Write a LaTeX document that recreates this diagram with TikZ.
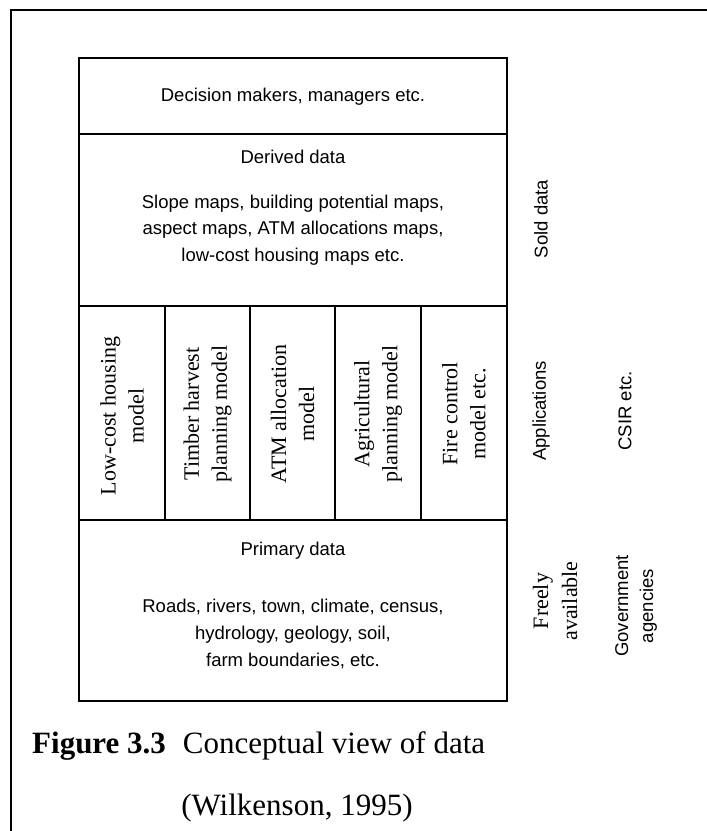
\documentclass[tikz,border=0pt]{standalone}
\usepackage{fontspec}
\setmainfont{Liberation Serif}
\setsansfont{Liberation Sans}
\usetikzlibrary{positioning}

\begin{document}
\begin{tikzpicture}[
  x=1pt, y=-1pt,
  every node/.style={inner sep=0pt},
  rowtext/.style={font=\sffamily\fontsize{18.5}{26.5}\selectfont, align=center},
  modeltext/.style={font=\fontsize{22}{28}\selectfont, rotate=90, align=center},
  sidetext/.style={font=\sffamily\fontsize{18.5}{25}\selectfont, rotate=90, align=center},
  sideserif/.style={font=\fontsize{22}{29}\selectfont, rotate=90, align=center},
  captext/.style={font=\fontsize{31}{36}\selectfont},
  tableline/.style={line width=1.6pt}
]
\useasboundingbox (0,0) rectangle (707,831);

% ---- OUTER FRAME ----
\draw[line width=1.5pt] (707,10) -- (11,10) -- (11,831);

% ---- TABLE ----
\draw[tableline] (79,58) rectangle (507,701);
\draw[tableline] (79,134) -- (507,134);
\draw[tableline] (79,306) -- (507,306);
\draw[tableline] (79,520) -- (507,520);
\draw[tableline] (165,306) -- (165,520);
\draw[tableline] (250,306) -- (250,520);
\draw[tableline] (335,306) -- (335,520);
\draw[tableline] (421,306) -- (421,520);

% ==== TOP: decision makers ====
\node[rowtext] (decide) at (293,97) {Decision makers, managers etc.};

% ==== DERIVED DATA ====
\node[rowtext] (derived) at (293,157) {Derived data};
\node[rowtext] (derivedlist) at (293,230) {%
  Slope maps, building potential maps,\\
  aspect maps, ATM allocations maps,\\
  low-cost housing maps etc.};

% ==== APPLICATIONS (models) ====
\node[modeltext] (lowcost) at (122,416) {Low-cost housing\\model};
\node[modeltext] (timber) at (207.5,414) {Timber harvest\\planning model};
\node[modeltext] (atm) at (292.5,414) {ATM allocation\\model};
\node[modeltext] (agri) at (378,414) {Agricultural\\planning model};
\node[modeltext] (fire) at (464,414) {Fire control\\model etc.};

% ==== PRIMARY DATA ====
\node[rowtext] (primary) at (293,551) {Primary data};
\node[rowtext, font=\sffamily\fontsize{18.5}{27}\selectfont] (primarylist) at (293,634) {%
  Roads, rivers, town, climate, census,\\
  hydrology, geology, soil,\\
  farm boundaries, etc.};

% ---- RIGHT-HAND LABELS ----
\node[sidetext] (sold) at (541,219) {Sold data};
\node[sidetext] (apps) at (541,411) {Applications};
\node[sidetext] (csir) at (625,411) {CSIR etc.};
\node[sideserif] (freely) at (555,601) {Freely\\available};
\node[sidetext] (govt) at (636,606) {Government\\agencies};

% ---- CAPTION ----
\node[captext, anchor=base west] (caption)
  at (32,753) {\textbf{Figure 3.3}\hspace{0.55em}Conceptual view of data};
\node[captext, anchor=base] (source)
  at (297,815) {(Wilkenson, 1995)};

\end{tikzpicture}
\end{document}
